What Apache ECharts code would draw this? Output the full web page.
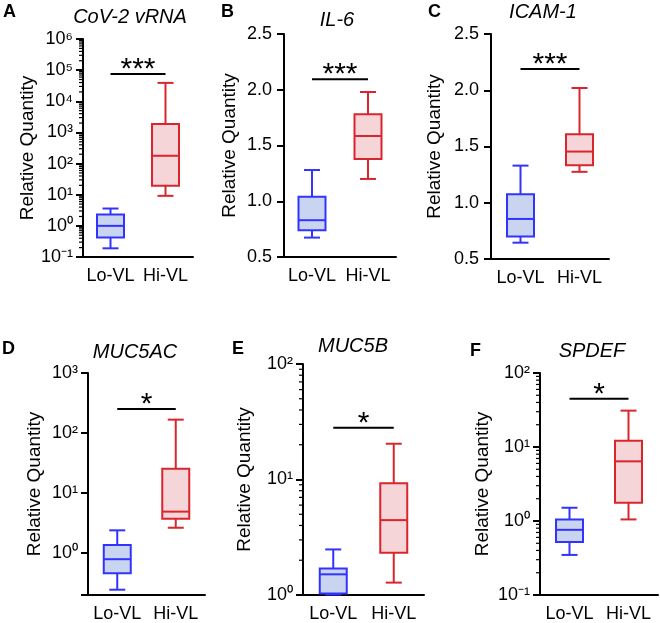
<!DOCTYPE html>
<html>
<head>
<meta charset="utf-8">
<script src="https://cdn.jsdelivr.net/npm/echarts@6/dist/echarts.min.js"></script>
<style>
  html, body { margin: 0; padding: 0; background: #fff; }
  #wrap { position: relative; width: 660px; height: 623px; }
  .panel { position: absolute; left: 0; top: 0; width: 660px; height: 623px; }
</style>
</head>
<body>
<div id="wrap"></div>
<script>
// 数据：每组 [min, Q1, median, Q3, max]
const groups = ['Lo-VL', 'Hi-VL'];
const genes = ['CoV-2 vRNA', 'IL-6', 'ICAM-1', 'MUC5AC', 'MUC5B', 'SPDEF'];
const letters = ['A', 'B', 'C', 'D', 'E', 'F'];

const loVL = [
  [0.19, 0.42, 1.0, 2.3, 3.6],
  [0.674, 0.74, 0.83, 1.04, 1.28],
  [0.645, 0.70, 0.856, 1.076, 1.33],
  [0.245, 0.46, 0.79, 1.36, 2.39],
  [1.01, 1.03, 1.51, 1.70, 2.48],
  [0.348, 0.52, 0.76, 1.05, 1.51]
];
const hiVL = [
  [9.2, 19.4, 178, 1860, 39000],
  [1.20, 1.38, 1.585, 1.78, 1.98],
  [1.275, 1.334, 1.455, 1.61, 2.02],
  [2.64, 3.73, 4.9, 25.4, 167],
  [1.28, 2.32, 4.45, 9.3, 20.4],
  [1.05, 1.77, 6.4, 12.1, 31]
];
// 显著性横线的高度和星号
const sigLevel = [75000, 2.095, 2.19, 251, 28.1, 44.9];
const sigStars = ['***', '***', '***', '*', '*', '*'];

// 坐标轴范围
const yType = ['log', 'value', 'value', 'log', 'log', 'log'];
const yMin = [0.1, 0.5, 0.5, 0.2, 1, 0.1];
const yMax = [1e6, 2.5, 2.5, 1000, 100, 100];

// 版面（像素）
const grids = [
  { left: 83, top: 39, width: 110, height: 218 },
  { left: 284, top: 34, width: 112, height: 223 },
  { left: 491, top: 34, width: 118, height: 225 },
  { left: 88, top: 373, width: 117, height: 222 },
  { left: 303, top: 364, width: 121, height: 234 },
  { left: 540, top: 373, width: 118, height: 223 }
];
const titlePos = [[130, 7], [337, 10], [543, 2], [135, 342], [353, 336], [592, 341]];
const letterPos = [[3, 3], [221, 3], [428, 3], [2, 340], [232, 340], [470, 342]];
const nameGaps = [46, 45, 47, 44, 49, 48];

const FONT = "'Liberation Sans', Arial, sans-serif";
const COLORS = [
  { line: '#3333ff', fill: '#c8d4f0' },
  { line: '#d9262c', fill: '#f5d5d8' }
];
const BOX_W = 27, CAP_W = 16;
const SUP = { '0': '⁰', '1': '¹', '2': '²', '3': '³', '4': '⁴', '5': '⁵', '6': '⁶', '7': '⁷', '8': '⁸', '9': '⁹', '-': '⁻' };

function renderBox(params, api) {
  const c = api.value(0);
  const p = [1, 2, 3, 4, 5].map(i => api.coord([c, api.value(i)]));
  const x = p[0][0];
  const col = COLORS[c];
  const st = { stroke: col.line, lineWidth: 2 };
  const hl = (y, w) => ({ type: 'line', shape: { x1: x - w / 2, y1: y, x2: x + w / 2, y2: y }, style: st });
  return {
    type: 'group',
    children: [
      { type: 'line', shape: { x1: x, y1: p[0][1], x2: x, y2: p[1][1] }, style: st },
      { type: 'line', shape: { x1: x, y1: p[3][1], x2: x, y2: p[4][1] }, style: st },
      hl(p[0][1], CAP_W),
      hl(p[4][1], CAP_W),
      {
        type: 'rect',
        shape: { x: x - BOX_W / 2, y: p[3][1], width: BOX_W, height: p[1][1] - p[3][1] },
        style: { fill: col.fill, stroke: col.line, lineWidth: 2 }
      },
      hl(p[2][1], BOX_W)
    ]
  };
}

function makeSig(stars) {
  return function (params, api) {
    const a = api.coord([api.value(0), api.value(2)]);
    const b = api.coord([api.value(1), api.value(2)]);
    return {
      type: 'group',
      children: [
        { type: 'line', shape: { x1: a[0], y1: a[1], x2: b[0], y2: b[1] }, style: { stroke: '#000', lineWidth: 2 } },
        {
          type: 'text',
          style: {
            text: stars, x: (a[0] + b[0]) / 2, y: a[1] - 4,
            align: 'center', verticalAlign: 'middle',
            fontSize: 30, fontFamily: FONT, fill: '#000'
          }
        }
      ]
    };
  };
}

function renderMinor(params, api) {
  const p = api.coord([0, api.value(1)]);
  const x0 = params.coordSys.x;
  return { type: 'line', shape: { x1: x0 - 4, y1: p[1], x2: x0, y2: p[1] }, style: { stroke: '#000', lineWidth: 1.2 } };
}

// 对数轴的次刻度 2..9 × 10^k
function minorTicks(min, max) {
  const out = [];
  for (let d = Math.floor(Math.log10(min)); d < Math.ceil(Math.log10(max)); d++) {
    for (let k = 2; k <= 9; k++) {
      const v = k * Math.pow(10, d);
      if (v > min * 1.0001 && v < max) out.push([0, v]);
    }
  }
  return out;
}

function logLabel(v) {
  const l = Math.log10(v);
  const e = Math.round(l);
  if (Math.abs(l - e) > 1e-6) return '';
  return '10' + String(e).split('').map(ch => SUP[ch]).join('');
}

// 每个小图一个实例，叠放在同一块 660x623 的区域上
function panelOption(i) {
  const isLog = yType[i] === 'log';
  const y = {
    type: yType[i], min: yMin[i], max: yMax[i],
    name: 'Relative Quantity', nameLocation: 'middle', nameGap: nameGaps[i],
    nameTextStyle: { fontSize: 19, color: '#000' },
    splitLine: { show: false },
    axisLine: { show: true, lineStyle: { color: '#000', width: 2 } },
    axisTick: { show: true, length: 7, lineStyle: { color: '#000', width: 2 } },
    axisLabel: { fontSize: 18, color: '#000' }
  };
  if (isLog) {
    y.logBase = 10;
    y.axisLabel.margin = 10;
    y.axisLabel.formatter = logLabel;
  } else {
    y.interval = 0.5;
    y.axisLabel.margin = 12;
    y.axisLabel.formatter = v => v.toFixed(1);
  }
  const series = [];
  if (isLog && i !== 3) {
    series.push({
      type: 'custom', silent: true, clip: false,
      encode: { x: 0, y: 1 },
      data: minorTicks(yMin[i], yMax[i]),
      renderItem: renderMinor
    });
  }
  series.push({
    type: 'custom', silent: true, clip: false,
    encode: { x: [0, 1], y: 2 },
    data: [[0, 1, sigLevel[i]]],
    renderItem: makeSig(sigStars[i])
  });
  series.push({
    type: 'custom', silent: true, clip: false,
    encode: { x: 0, y: [1, 2, 3, 4, 5] },
    data: [[0].concat(loVL[i]), [1].concat(hiVL[i])],
    renderItem: renderBox
  });
  return {
    animation: false,
    backgroundColor: 'transparent',
    textStyle: { fontFamily: FONT, color: '#000' },
    title: [
      {
        text: genes[i], left: titlePos[i][0], top: titlePos[i][1], textAlign: 'center', padding: 0,
        textStyle: { fontSize: 20, fontStyle: 'italic', fontWeight: 'normal', color: '#000' }
      },
      {
        text: letters[i], left: letterPos[i][0], top: letterPos[i][1], padding: 0,
        textStyle: { fontSize: 18, fontWeight: 'bold', color: '#000' }
      }
    ],
    grid: grids[i],
    xAxis: {
      type: 'category', data: groups,
      axisLine: { lineStyle: { color: '#000', width: 2 } },
      axisTick: { alignWithLabel: true, length: 6, lineStyle: { color: '#000', width: 2 } },
      axisLabel: { fontSize: 18, color: '#000', margin: 10, interval: 0 }
    },
    yAxis: y,
    series: series
  };
}

const wrap = document.getElementById('wrap');
genes.forEach((g, i) => {
  const div = document.createElement('div');
  div.className = 'panel';
  wrap.appendChild(div);
  const chart = echarts.init(div);
  chart.setOption(panelOption(i));
});
</script>
</body>
</html>
